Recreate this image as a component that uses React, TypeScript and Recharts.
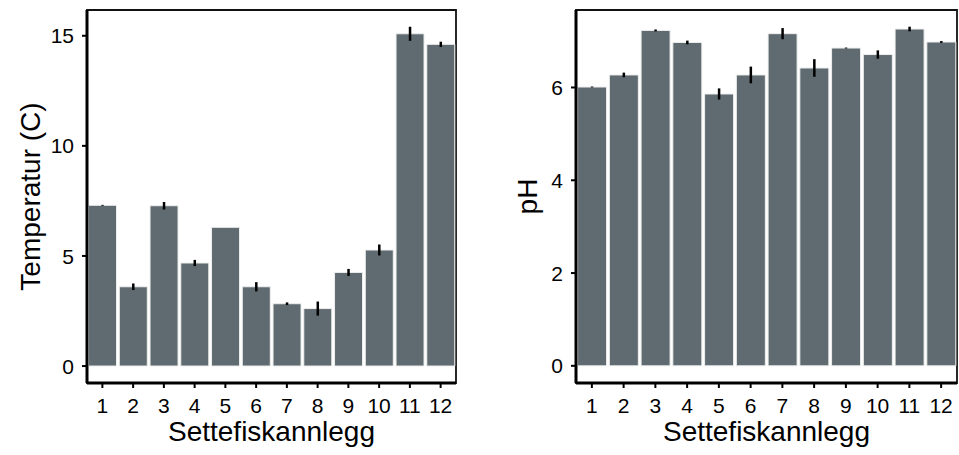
import { BarChart, Bar, XAxis, YAxis, ErrorBar, ReferenceArea } from 'recharts';

// anlegg 1-12
const sites = ['1', '2', '3', '4', '5', '6', '7', '8', '9', '10', '11', '12'];

const temperature = [7.3, 3.6, 7.28, 4.68, 6.3, 3.6, 2.83, 2.61, 4.25, 5.27, 15.09, 14.61];
const temperatureErr = [0.02, 0.15, 0.17, 0.14, 0, 0.21, 0.06, 0.32, 0.16, 0.25, 0.32, 0.12];

const ph = [6.01, 6.27, 7.23, 6.97, 5.86, 6.27, 7.16, 6.42, 6.85, 6.71, 7.26, 6.98];
const phErr = [0.01, 0.05, 0.02, 0.04, 0.12, 0.18, 0.12, 0.19, 0.01, 0.09, 0.05, 0.02];

const tempTicks = [0, 5, 10, 15];
const phTicks = [0, 2, 4, 6];

const barColor = '#5f6b70';
const titleStyle = { fill: '#000', fontSize: 28 };
const tickText = { fontSize: '21px', fill: '#000' };

type Row = { site: string; value: number; err: number };

function makeRows(values: number[], errs: number[]): Row[] {
    return sites.map((site, i) => ({ site, value: values[i], err: errs[i] }));
}

// ticks drawn by hand, with inline style so the size sticks
function XTick(props: any) {
    const { x, y, payload } = props;
    return (
        <text x={x} y={y} dy="0.72em" textAnchor="middle" style={tickText}>
            {payload.value}
        </text>
    );
}

function YTick(props: any) {
    const { x, y, payload } = props;
    return (
        <text x={x} y={y} dy="0.36em" textAnchor="end" style={tickText}>
            {payload.value}
        </text>
    );
}

interface PanelProps {
    rows: Row[];
    width: number;
    yWidth: number;
    labelOffset: number;
    rightMargin: number;
    domain: [number, number];
    ticks: number[];
    yLabel: string;
}

function Panel({ rows, width, yWidth, labelOffset, rightMargin, domain, ticks, yLabel }: PanelProps) {
    return (
        <BarChart
            width={width}
            height={455}
            data={rows}
            margin={{ top: 10, right: rightMargin, bottom: 10, left: 0 }}
            barCategoryGap="5%"
        >
            {/* panel border (top and right side) */}
            <ReferenceArea
                y1={domain[0]}
                y2={domain[1]}
                fill="none"
                fillOpacity={0}
                stroke="#111"
                strokeWidth={1.8}
            />
            <XAxis
                dataKey="site"
                height={62}
                tick={<XTick />}
                tickSize={5}
                tickMargin={10}
                axisLine={{ stroke: '#000', strokeWidth: 3 }}
                tickLine={{ stroke: '#000', strokeWidth: 2 }}
                interval={0}
                label={{ value: 'Settefiskannlegg', position: 'insideBottom', offset: 4, style: titleStyle }}
            />
            <YAxis
                width={yWidth}
                domain={domain}
                ticks={ticks}
                allowDataOverflow
                tick={<YTick />}
                tickSize={5}
                tickMargin={8}
                axisLine={{ stroke: '#000', strokeWidth: 3 }}
                tickLine={{ stroke: '#000', strokeWidth: 2 }}
                label={{
                    value: yLabel,
                    angle: -90,
                    position: 'insideLeft',
                    offset: labelOffset,
                    style: { ...titleStyle, textAnchor: 'middle' },
                }}
            />
            <Bar dataKey="value" fill={barColor} stroke="#eeeeee" strokeWidth={1} isAnimationActive={false}>
                <ErrorBar dataKey="err" width={0} stroke="#000" strokeWidth={2.5} direction="y" />
            </Bar>
        </BarChart>
    );
}

export default function App() {
    return (
        <div
            style={{
                position: 'absolute',
                left: 0,
                top: 0,
                width: 959,
                height: 455,
                display: 'flex',
                background: '#fff',
                fontFamily: '"Liberation Sans", Arial, sans-serif',
            }}
        >
            <Panel
                rows={makeRows(temperature, temperatureErr)}
                width={480}
                yWidth={87}
                labelOffset={30}
                rightMargin={24}
                domain={[-0.77, 16.17]}
                ticks={tempTicks}
                yLabel="Temperatur (C)"
            />
            <Panel
                rows={makeRows(ph, phErr)}
                width={479}
                yWidth={96}
                labelOffset={47}
                rightMargin={2}
                domain={[-0.37, 7.67]}
                ticks={phTicks}
                yLabel="pH"
            />
        </div>
    );
}
